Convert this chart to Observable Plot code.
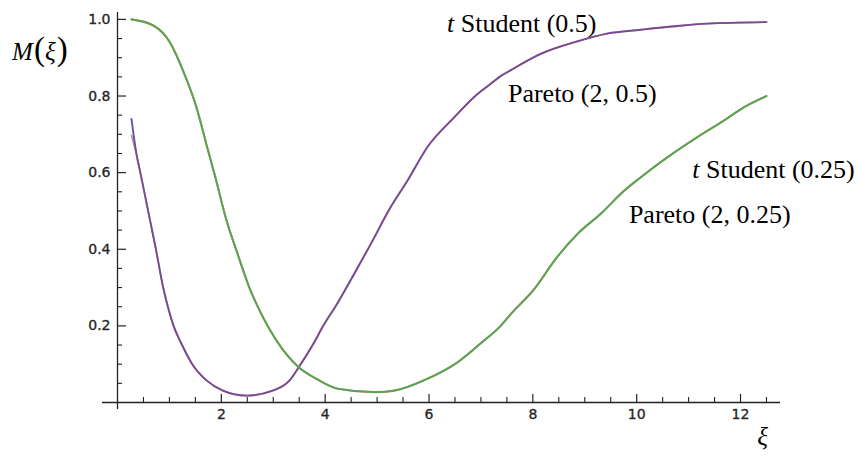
<!DOCTYPE html>
<html><head><meta charset="utf-8">
<script src="https://cdn.jsdelivr.net/npm/d3@7"></script>
<script src="https://cdn.jsdelivr.net/npm/@observablehq/plot@0.6"></script>
<style>
html,body{margin:0;padding:0;background:#fff;}
#chart{width:860px;height:455px;overflow:hidden;}
</style></head><body><div id="chart"></div>
<script>
// ---- data ----
const xiA = [0.27, 0.37, 0.44, 0.59, 0.74, 0.88, 0.99, 1.08, 1.23, 1.44, 1.72, 2.03, 2.48, 2.99, 3.31, 3.49, 3.83, 3.92, 4.24, 4.56, 4.88, 5.24, 5.59, 5.97, 6.49, 6.94, 7.19, 7.38, 7.57, 8.15, 8.79, 9.43, 10.08, 10.72, 11.36, 12.5];
const tStudent05 = [0.74, 0.645, 0.60, 0.50, 0.40, 0.30, 0.24, 0.20, 0.154, 0.10, 0.057, 0.031, 0.018, 0.031, 0.057, 0.092, 0.167, 0.19, 0.26, 0.336, 0.414, 0.505, 0.58, 0.667, 0.745, 0.806, 0.832, 0.852, 0.867, 0.91, 0.94, 0.963, 0.973, 0.982, 0.989, 0.993];
const pareto05   = [0.697, 0.645, 0.60, 0.50, 0.40, 0.30, 0.24, 0.20, 0.154, 0.10, 0.057, 0.031, 0.018, 0.031, 0.057, 0.092, 0.167, 0.19, 0.26, 0.336, 0.414, 0.505, 0.58, 0.667, 0.745, 0.806, 0.832, 0.852, 0.867, 0.91, 0.94, 0.963, 0.973, 0.982, 0.989, 0.993];

const xiB = [0.27, 0.69, 1.01, 1.26, 1.52, 1.71, 1.90, 2.10, 2.29, 2.54, 2.80, 3.06, 3.49, 3.83, 4.24, 4.95, 5.33, 5.97, 6.55, 7.0, 7.38, 7.57, 8.02, 8.47, 8.86, 9.31, 9.76, 10.08, 10.59, 11.17, 11.68, 12.07, 12.5];
const tStudent025 = [1.0, 0.984, 0.94, 0.867, 0.771, 0.675, 0.58, 0.475, 0.397, 0.30, 0.223, 0.162, 0.092, 0.062, 0.036, 0.027, 0.031, 0.062, 0.105, 0.155, 0.20, 0.23, 0.295, 0.38, 0.44, 0.493, 0.553, 0.588, 0.64, 0.693, 0.736, 0.771, 0.80];
const pareto025   = [1.0, 0.984, 0.94, 0.867, 0.771, 0.675, 0.58, 0.475, 0.397, 0.30, 0.223, 0.162, 0.092, 0.062, 0.036, 0.027, 0.031, 0.062, 0.105, 0.155, 0.20, 0.23, 0.295, 0.38, 0.44, 0.493, 0.553, 0.588, 0.64, 0.693, 0.736, 0.771, 0.80];

const seriesNames = ["t Student (0.5)", "Pareto (2, 0.5)", "t Student (0.25)", "Pareto (2, 0.25)"];
const xMajorTicks = [2, 4, 6, 8, 10, 12];
const xMinorTicks = [0.5, 1, 1.5, 2.5, 3, 3.5, 4.5, 5, 5.5, 6.5, 7, 7.5, 8.5, 9, 9.5, 10.5, 11, 11.5, 12.5];
const yMajorTicks = [0.2, 0.4, 0.6, 0.8, 1.0];
const yMinorTicks = [0.05, 0.1, 0.15, 0.25, 0.3, 0.35, 0.45, 0.5, 0.55, 0.65, 0.7, 0.75, 0.85, 0.9, 0.95];

// label texts (italic prefix + rest) and their anchor positions in data space
const labelParts = [["t", " Student (0.5)"], ["", "Pareto (2, 0.5)"], ["t", " Student (0.25)"], ["", "Pareto (2, 0.25)"]];
const labelAnchors = [[6.356, 0.966], [7.53, 0.783], [11.08, 0.585], [9.86, 0.467]];

// ---- build tables ----
const colors = ["#3d3d99", "#993d71", "#a8944a", "#4fa55c"];
const xs = [xiA, xiA, xiB, xiB];
const ys = [tStudent05, pareto05, tStudent025, pareto025];
const rows = seriesNames.map((name, i) => xs[i].map((xi, j) => ({name, xi, m: ys[i][j]})));

const serif = "'Liberation Serif', 'Times New Roman', Times, serif";
const tickColor = "#222";

const plot = Plot.plot({
  width: 860, height: 455,
  marginLeft: 117, marginRight: 80, marginTop: 12, marginBottom: 53,
  style: {fontFamily: "'DejaVu Sans', sans-serif", fontSize: "14px", background: "#fff", overflow: "visible"},
  x: {domain: [0, 12.77]},
  y: {domain: [0, 1.018]},
  marks: [
    Plot.ruleY([0], {stroke: tickColor, strokeWidth: 1.3, insetLeft: -15}),
    Plot.ruleX([0], {stroke: tickColor, strokeWidth: 1.3, insetBottom: -7}),
    Plot.axisX(xMajorTicks, {tickSize: -8, tickFormat: () => "", stroke: tickColor, strokeWidth: 1.2, label: null}),
    Plot.axisX(xMinorTicks, {tickSize: -5, tickFormat: () => "", stroke: tickColor, strokeWidth: 1.1, label: null}),
    Plot.axisX(xMajorTicks, {tickSize: 0, tickPadding: 7, tickFormat: d => String(d), fill: "#222", label: null}),
    Plot.axisY(yMajorTicks, {tickSize: -9, tickFormat: () => "", stroke: tickColor, strokeWidth: 1.2, label: null}),
    Plot.axisY(yMinorTicks, {tickSize: -5, tickFormat: () => "", stroke: tickColor, strokeWidth: 1.1, label: null}),
    Plot.axisY(yMajorTicks, {tickSize: 0, tickPadding: 7, tickFormat: d3.format(".1f"), fill: "#222", label: null}),
    Plot.line(rows[0], {x: "xi", y: "m", stroke: colors[0], strokeWidth: 1.9, strokeOpacity: 0.85, curve: "monotone-x"}),
    Plot.line(rows[1], {x: "xi", y: "m", stroke: colors[1], strokeWidth: 1.7, strokeOpacity: 0.6, curve: "monotone-x"}),
    Plot.line(rows[2], {x: "xi", y: "m", stroke: colors[2], strokeWidth: 2.1, curve: "monotone-x"}),
    Plot.line(rows[3], {x: "xi", y: "m", stroke: colors[3], strokeWidth: 1.8, strokeOpacity: 0.9, curve: "monotone-x"})
  ]
});

const sx = plot.scale("x"), sy = plot.scale("y");
const svg = d3.select(plot);
// slightly heavier tick labels, like the reference's rendering
svg.selectAll("g[aria-label$='tick label'] text")
  .style("stroke", "#333").style("stroke-width", "0.35px");

const g = svg.append("g")
  .attr("text-anchor", "start")
  .style("font-family", serif).style("font-size", "26px").attr("fill", "#000");
labelParts.forEach((p, i) => {
  const [ax, ay] = labelAnchors[i];
  const t = g.append("text").attr("x", sx.apply(ax)).attr("y", sy.apply(ay));
  if (p[0]) t.append("tspan").style("font-style", "italic").text(p[0]);
  t.append("tspan").text(p[1]);
});
// axis titles
const yTitle = g.append("text").attr("x", sx.apply(-2.02)).attr("y", sy.apply(0.893)).style("font-size", "25px");
yTitle.append("tspan").style("font-style", "italic").text("M");
yTitle.append("tspan").style("font-size", "33px").attr("dx", 1).text("(");
yTitle.append("tspan").style("font-style", "italic").text("ξ");
yTitle.append("tspan").style("font-size", "33px").attr("dx", 1).text(")");
g.append("text").attr("x", sx.apply(12.33)).attr("y", sy.apply(-0.112)).style("font-style", "italic").style("font-size", "25px").text("ξ");

document.getElementById("chart").appendChild(plot);
</script></body></html>
